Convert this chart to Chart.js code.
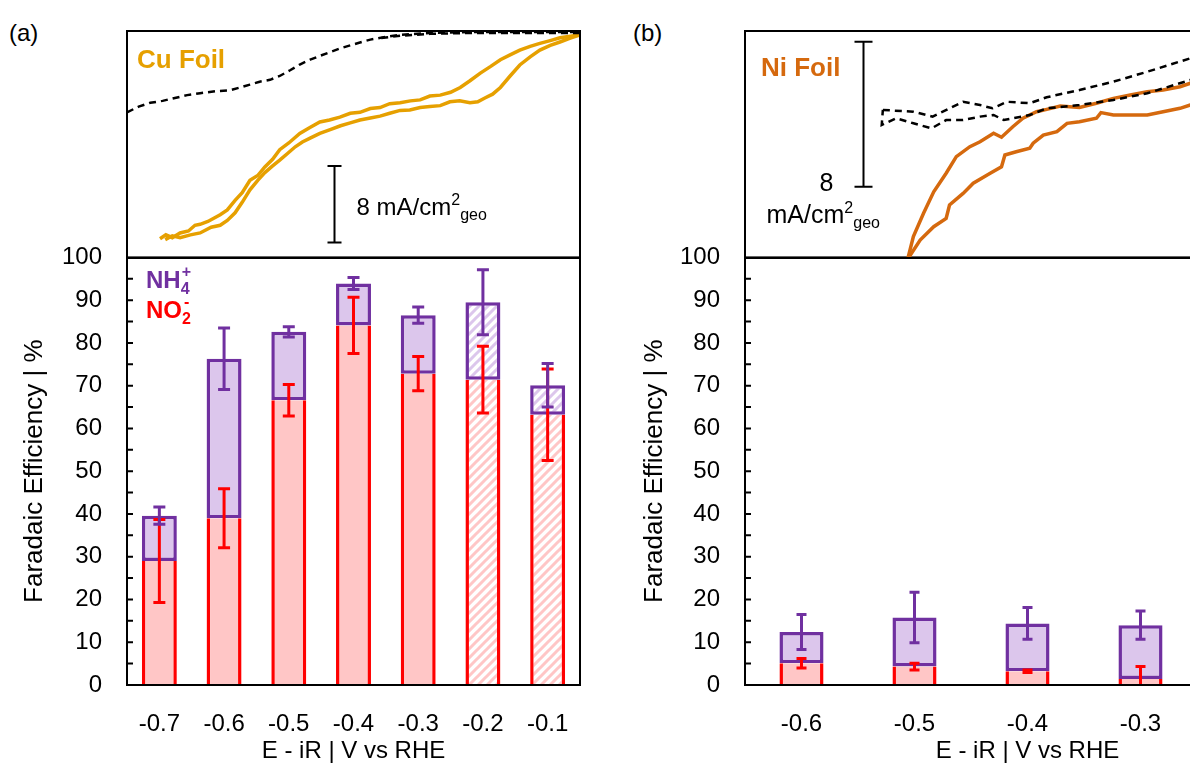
<!DOCTYPE html>
<html>
<head>
<meta charset="utf-8">
<script src="https://cdn.jsdelivr.net/npm/chart.js@4.4.1/dist/chart.umd.min.js"></script>
<style>
  body { margin: 0; width: 1190px; height: 767px; overflow: hidden; background: #fff; position: relative;
         font-family: 'Liberation Sans', Arial, sans-serif; }
  canvas { position: absolute; }
  .panel { position: absolute; font-size: 24px; color: #000; }
</style>
</head>
<body>
<div class="panel" style="left:9px;top:19px">(a)</div>
<div class="panel" style="left:633px;top:19px">(b)</div>
<canvas id="barCu" width="600" height="549" style="left:0;top:218px"></canvas>
<canvas id="barNi" width="710" height="549" style="left:620px;top:218px"></canvas>
<canvas id="cvCu" width="473" height="247" style="left:117px;top:21px"></canvas>
<canvas id="cvNi" width="585" height="247" style="left:735px;top:21px"></canvas>
<script>
const FONT = "'Liberation Sans', Arial, sans-serif";
const PURPLE = '#7030A0', PURPLE_FILL = '#DCC6EC';
const RED = '#FF0000', RED_FILL = '#FFC6C6';
const CU = '#E6A000', NI = '#D5690E';

// Faradaic efficiency, Cu foil
const cuPotentials = ['-0.7', '-0.6', '-0.5', '-0.4', '-0.3', '-0.2', '-0.1'];
const cuNO2 = [29.0, 39.0, 66.6, 84.1, 72.8, 71.4, 63.2];
const cuNO2Err = [9.7, 6.9, 3.7, 6.6, 4.0, 7.8, 10.7];
const cuNH4 = [10.6, 37.3, 16.0, 9.8, 13.7, 18.1, 6.9];
const cuNH4Err = [2.0, 7.2, 1.2, 1.4, 1.9, 7.6, 5.1];
const cuHatched = [false, false, false, false, false, true, true];

// Faradaic efficiency, Ni foil
const niPotentials = ['-0.6', '-0.5', '-0.4', '-0.3', '-0.2'];
const niNO2 = [5.1, 4.3, 3.2, 1.4, null];
const niNO2Err = [1.1, 0.8, 0.3, 2.9, null];
const niNH4 = [7.3, 11.5, 11.2, 12.6, null];
const niNH4Err = [4.1, 5.9, 3.7, 3.3, null];

// LSV traces [E vs RHE, j in mA/cm2]
const cuNitriteFwd = [[-0.699,-21.4],[-0.690,-21.0],[-0.680,-21.3],[-0.668,-20.8],[-0.655,-20.6],[-0.645,-20.0],
  [-0.637,-19.9],[-0.625,-19.6],[-0.606,-18.9],[-0.595,-18.4],[-0.583,-17.4],[-0.572,-16.6],[-0.560,-15.3],
  [-0.548,-14.8],[-0.537,-13.9],[-0.525,-13.1],[-0.514,-12.1],[-0.500,-11.4],[-0.483,-10.4],[-0.468,-9.8],
  [-0.452,-9.2],[-0.437,-9.0],[-0.421,-8.7],[-0.405,-8.3],[-0.390,-8.2],[-0.374,-7.8],[-0.359,-7.7],
  [-0.344,-7.3],[-0.328,-7.2],[-0.312,-7.0],[-0.297,-6.9],[-0.282,-6.5],[-0.266,-6.4],[-0.250,-6.1],
  [-0.235,-5.6],[-0.220,-4.9],[-0.204,-4.1],[-0.188,-3.4],[-0.173,-2.7],[-0.158,-2.2],[-0.143,-1.7],
  [-0.127,-1.3],[-0.112,-1.0],[-0.096,-0.7],[-0.081,-0.4],[-0.065,-0.25],[-0.050,-0.1]];
const cuNitriteRev = [[-0.050,-0.1],[-0.065,-0.45],[-0.081,-0.85],[-0.096,-1.2],[-0.112,-1.7],[-0.127,-2.4],
  [-0.143,-3.25],[-0.158,-4.4],[-0.173,-5.6],[-0.185,-6.3],[-0.197,-6.7],[-0.208,-7.1],[-0.220,-7.2],
  [-0.236,-7.0],[-0.251,-7.1],[-0.266,-7.5],[-0.282,-7.6],[-0.297,-7.7],[-0.313,-7.95],[-0.328,-8.0],
  [-0.344,-8.3],[-0.359,-8.6],[-0.374,-8.8],[-0.390,-9.0],[-0.405,-9.3],[-0.420,-9.6],[-0.436,-10.0],
  [-0.452,-10.4],[-0.467,-10.9],[-0.479,-11.3],[-0.490,-11.8],[-0.502,-12.5],[-0.514,-13.2],[-0.525,-13.8],
  [-0.537,-14.5],[-0.548,-15.3],[-0.560,-16.3],[-0.572,-17.6],[-0.583,-18.7],[-0.595,-19.5],[-0.606,-20.0],
  [-0.620,-20.2],[-0.637,-20.8],[-0.652,-21.0],[-0.668,-21.3],[-0.680,-21.1],[-0.691,-21.5]];
const cuBlankFwd = [[-0.750,-8.2],[-0.732,-7.6],[-0.714,-7.2],[-0.695,-7.0],[-0.676,-6.7],[-0.657,-6.4],
  [-0.637,-6.2],[-0.614,-6.0],[-0.591,-5.9],[-0.575,-5.6],[-0.560,-5.3],[-0.545,-5.0],[-0.529,-4.8],
  [-0.514,-4.4],[-0.498,-3.8],[-0.483,-3.2],[-0.467,-2.7],[-0.452,-2.3],[-0.436,-1.9],[-0.420,-1.5],
  [-0.405,-1.2],[-0.390,-0.9],[-0.374,-0.6],[-0.350,-0.3],[-0.328,-0.1],[-0.282,0.1],[-0.220,0.2],
  [-0.143,0.2],[-0.050,0.2]];
const cuBlankRev = [[-0.050,0.1],[-0.143,0.1],[-0.220,0.1],[-0.282,0.0],[-0.328,-0.2],[-0.360,-0.45]];

const niNitriteFwd = [[-0.506,-12.6],[-0.501,-11.36],[-0.492,-10.07],[-0.483,-8.88],[-0.472,-7.86],
  [-0.463,-6.94],[-0.451,-6.39],[-0.442,-6.12],[-0.430,-5.65],[-0.423,-5.87],[-0.413,-5.29],[-0.404,-4.82],
  [-0.392,-4.46],[-0.383,-4.33],[-0.371,-4.14],[-0.354,-4.22],[-0.339,-3.99],[-0.324,-3.72],[-0.309,-3.54],
  [-0.294,-3.35],[-0.280,-3.26],[-0.265,-3.08],[-0.256,-2.89],[-0.230,-2.6]];
const niNitriteRev = [[-0.230,-3.8],[-0.256,-4.09],[-0.265,-4.27],[-0.280,-4.46],[-0.294,-4.64],
  [-0.309,-4.64],[-0.324,-4.64],[-0.335,-4.51],[-0.339,-4.82],[-0.354,-5.01],[-0.365,-5.10],[-0.374,-5.56],
  [-0.386,-5.75],[-0.395,-6.20],[-0.398,-6.48],[-0.410,-6.67],[-0.420,-6.85],[-0.423,-7.50],[-0.433,-7.86],
  [-0.448,-8.41],[-0.457,-8.97],[-0.469,-9.61],[-0.472,-10.35],[-0.483,-10.81],[-0.495,-11.55],[-0.506,-12.6]];
const niBlankFwd = [[-0.528,-4.36],[-0.501,-4.46],[-0.484,-4.73],[-0.469,-4.27],[-0.457,-3.91],[-0.442,-4.09],
  [-0.431,-4.27],[-0.418,-3.91],[-0.398,-3.99],[-0.383,-3.66],[-0.354,-3.26],[-0.324,-2.80],[-0.294,-2.25],
  [-0.256,-1.51],[-0.230,-1.0]];
const niBlankRev = [[-0.230,-2.3],[-0.256,-2.71],[-0.294,-3.44],[-0.324,-3.81],[-0.354,-4.09],[-0.383,-4.27],
  [-0.398,-4.64],[-0.413,-4.82],[-0.421,-4.92],[-0.430,-4.64],[-0.442,-4.73],[-0.457,-4.92],[-0.472,-4.92],
  [-0.485,-5.38],[-0.501,-5.10],[-0.516,-4.82],[-0.529,-5.19],[-0.528,-4.36]];

function hatch(color) {
  const c = document.createElement('canvas');
  c.width = c.height = 9;
  const g = c.getContext('2d');
  g.fillStyle = '#fff';
  g.fillRect(0, 0, 9, 9);
  g.strokeStyle = color;
  g.lineWidth = 3;
  g.beginPath();
  g.moveTo(-1, 10); g.lineTo(10, -1);
  g.moveTo(-2, 2); g.lineTo(2, -2);
  g.moveTo(7, 11); g.lineTo(11, 7);
  g.stroke();
  return g.createPattern(c, 'repeat');
}
const redHatch = hatch(RED_FILL), purpleHatch = hatch(PURPLE_FILL);

function errorBars(chart, mids, errs, color, half) {
  const {ctx, chartArea: a} = chart;
  const xs = chart.scales.x, ys = chart.scales.y;
  ctx.save();
  ctx.beginPath();
  ctx.rect(a.left, a.top - 2, a.right - a.left, a.bottom - a.top + 3);
  ctx.clip();
  ctx.strokeStyle = color;
  ctx.lineWidth = 3;
  mids.forEach((m, i) => {
    if (m == null || errs[i] == null) return;
    const cx = xs.getPixelForValue(i);
    const t = ys.getPixelForValue(m + errs[i]), b = ys.getPixelForValue(m - errs[i]);
    ctx.beginPath();
    ctx.moveTo(cx, t); ctx.lineTo(cx, b);
    ctx.moveTo(cx - half, t); ctx.lineTo(cx + half, t);
    ctx.moveTo(cx - half, b); ctx.lineTo(cx + half, b);
    ctx.stroke();
  });
  ctx.restore();
}

// box round the plot area plus inward ticks every 5 %
const barFrame = {
  id: 'barFrame',
  afterDatasetsDraw(chart, args, o) {
    const {ctx, chartArea: a} = chart;
    errorBars(chart, o.no2, o.no2Err, RED, o.cap);
    const totals = o.no2.map((v, i) => v == null ? null : v + o.nh4[i]);
    errorBars(chart, totals, o.nh4Err, PURPLE, o.cap);
    ctx.save();
    ctx.strokeStyle = '#000';
    ctx.lineWidth = 2;
    ctx.strokeRect(a.left, a.top, a.right - a.left, a.bottom - a.top);
    const ys = chart.scales.y;
    ctx.beginPath();
    for (let v = 5; v < 100; v += 5) {
      const y = ys.getPixelForValue(v);
      ctx.moveTo(a.left, y); ctx.lineTo(a.left + 6, y);
    }
    ctx.stroke();
    if (o.legend) {
      const put = (txt, x, y, size) => { ctx.font = 'bold ' + size + 'px ' + FONT; ctx.fillText(txt, x, y); return x + ctx.measureText(txt).width; };
      ctx.textBaseline = 'alphabetic';
      ctx.fillStyle = PURPLE;
      let x = put('NH', a.left + 19, a.top + 31, 24);
      put('4', x, a.top + 37, 16); put('+', x + 1, a.top + 20, 16);
      ctx.fillStyle = RED;
      x = put('NO', a.left + 19, a.top + 61, 24);
      put('2', x, a.top + 67, 16); put('-', x + 2, a.top + 50, 16);
    }
    ctx.restore();
  }
};

function barChart(id, labels, no2, no2Err, nh4, nh4Err, hatched, yWidth, barPct, cap, legend) {
  return new Chart(document.getElementById(id), {
    type: 'bar',
    data: {
      labels,
      datasets: [
        { label: 'NO2-', data: no2, backgroundColor: no2.map((v, i) => hatched[i] ? redHatch : RED_FILL),
          borderColor: RED, borderWidth: {left: 3.5, right: 3.5, top: 0, bottom: 0}, borderSkipped: false },
        { label: 'NH4+', data: nh4, backgroundColor: nh4.map((v, i) => hatched[i] ? purpleHatch : PURPLE_FILL),
          borderColor: PURPLE, borderWidth: 3.5, borderSkipped: false }
      ]
    },
    options: {
      responsive: false, animation: false, devicePixelRatio: 1,
      barPercentage: barPct, categoryPercentage: 1,
      layout: { padding: {left: 0, top: 10, right: 20, bottom: 0} },
      plugins: { legend: { display: false }, tooltip: { enabled: false },
        barFrame: { no2, no2Err, nh4, nh4Err, cap, legend } },
      scales: {
        x: {
          stacked: true,
          grid: { display: false },
          border: { color: '#000', width: 2 },
          ticks: { color: '#000', font: { family: FONT, size: 24 }, padding: 17, maxRotation: 0 },
          title: { display: true, text: 'E - iR | V vs RHE', color: '#000',
                   font: { family: FONT, size: 24 }, padding: {top: 0, bottom: 1} },
          afterFit: s => { s.height = 82; }
        },
        y: {
          stacked: true, min: 0, max: 100,
          grid: { display: false, drawTicks: false },
          border: { color: '#000', width: 2 },
          ticks: { stepSize: 10, color: '#000', font: { family: FONT, size: 24 }, padding: 25 },
          title: { display: true, text: 'Faradaic Efficiency | %', color: '#000',
                   font: { family: FONT, size: 26 }, padding: {top: 19, bottom: 0} },
          afterFit: s => { s.width = yWidth; }
        }
      }
    },
    plugins: [barFrame]
  });
}

barChart('barCu', cuPotentials, cuNO2, cuNO2Err, cuNH4, cuNH4Err, cuHatched, 127, 0.54, 6, true);
barChart('barNi', niPotentials, niNO2, niNO2Err, niNH4, niNH4Err, niPotentials.map(() => false), 125, 0.39, 5, false);

function trace(points, color, dash, width) {
  return { data: points.map(p => ({x: p[0], y: p[1]})), showLine: true, borderColor: color,
           borderWidth: width, borderDash: dash, pointRadius: 0, tension: 0 };
}

// text and 8 mA/cm2 scale bar drawn in the LSV boxes
function lsvNotes(o) {
  return {
    id: 'lsvNotes',
    afterDatasetsDraw(chart) {
      const {ctx, chartArea: a} = chart;
      const xs = chart.scales.x, ys = chart.scales.y;
      ctx.save();
      ctx.strokeStyle = '#000';
      ctx.lineWidth = 2;
      ctx.strokeRect(a.left, a.top, a.right - a.left, a.bottom - a.top);
      const bx = Math.round(xs.getPixelForValue(o.barE)) + 0.5;
      const t = ys.getPixelForValue(o.barTop), b = ys.getPixelForValue(o.barTop - 8);
      ctx.beginPath();
      ctx.moveTo(bx, t); ctx.lineTo(bx, b);
      ctx.moveTo(bx - o.cap, t); ctx.lineTo(bx + o.cap, t);
      ctx.moveTo(bx - o.cap, b); ctx.lineTo(bx + o.cap, b);
      ctx.stroke();
      ctx.textBaseline = 'alphabetic';
      ctx.fillStyle = o.color;
      ctx.font = 'bold 26px ' + FONT;
      ctx.fillText(o.name, a.left + o.nameDx, a.top + o.nameDy);
      ctx.fillStyle = '#000';
      ctx.font = o.size + 'px ' + FONT;
      let x, y;
      if (o.stacked) {
        ctx.textAlign = 'right';
        ctx.fillText('8', bx - 30, b + 4);
        ctx.textAlign = 'left';
        x = bx - 97; y = b + 36;
        ctx.fillText('mA/cm', x, y);
        x += ctx.measureText('mA/cm').width;
      } else {
        x = bx + 22; y = b - 27;
        ctx.fillText('8 mA/cm', x, y);
        x += ctx.measureText('8 mA/cm').width;
      }
      ctx.font = '16px ' + FONT;
      ctx.fillText('2', x, y - 10);
      ctx.fillText('geo', x + 9, y + 5);
      ctx.restore();
    }
  };
}

new Chart(document.getElementById('cvCu'), {
  type: 'scatter',
  data: { datasets: [
    trace(cuBlankFwd, '#000', [7, 5], 2.5),
    trace(cuBlankRev, '#000', [7, 5], 2.5),
    trace(cuNitriteFwd, CU, [], 3.5),
    trace(cuNitriteRev, CU, [], 3.5)
  ] },
  options: {
    responsive: false, animation: false, devicePixelRatio: 1,
    layout: { padding: 10 },
    plugins: { legend: { display: false }, tooltip: { enabled: false } },
    scales: {
      x: { type: 'linear', min: -0.75, max: -0.05, display: false },
      y: { min: -23.42, max: 0.3, display: false }
    }
  },
  plugins: [lsvNotes({ name: 'Cu Foil', color: CU, nameDx: 10, nameDy: 37, size: 24,
    barE: -0.430, barTop: -13.8, cap: 7, stacked: false })]
});

new Chart(document.getElementById('cvNi'), {
  type: 'scatter',
  data: { datasets: [
    trace(niBlankFwd, '#000', [7, 5], 2.5),
    trace(niBlankRev, '#000', [7, 5], 2.5),
    trace(niNitriteFwd, NI, [], 3.5),
    trace(niNitriteRev, NI, [], 3.5)
  ] },
  options: {
    responsive: false, animation: false, devicePixelRatio: 1,
    layout: { padding: 10 },
    plugins: { legend: { display: false }, tooltip: { enabled: false } },
    scales: {
      x: { type: 'linear', min: -0.65, max: -0.15, display: false },
      y: { min: -12.54, max: 0, display: false }
    }
  },
  plugins: [lsvNotes({ name: 'Ni Foil', color: NI, nameDx: 16, nameDy: 45, size: 25,
    barE: -0.546, barTop: -0.6, cap: 9, stacked: true })]
});
</script>
</body>
</html>
